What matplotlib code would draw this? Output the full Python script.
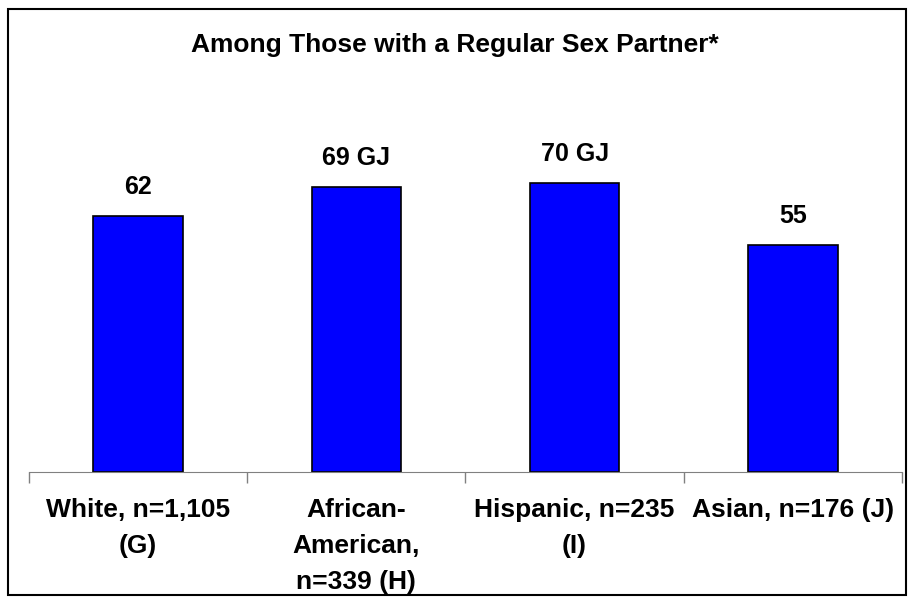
import matplotlib.pyplot as plt
import numpy as np
from matplotlib.patches import Rectangle

plt.rcParams['font.family'] = ['Liberation Sans', 'DejaVu Sans']

# datos
categorias = ["White, n=1,105\n(G)", "African-\nAmerican,\nn=339 (H)",
              "Hispanic, n=235\n(I)", "Asian, n=176 (J)"]
valores = [62, 69, 70, 55]
etiquetas = ["62", "69 GJ", "70 GJ", "55"]
titulo = "Among Those with a Regular Sex Partner*"

W, H = 909, 597
fig = plt.figure(figsize=(W / 100, H / 100), dpi=100)
ax = fig.add_axes([0.0319, 0.2094, 0.9604, 0.6231])

x = np.arange(len(valores))
barras = ax.bar(x, valores, width=0.41, color='#0000FF', edgecolor='black', linewidth=1.2)

for xi, v, et in zip(x, valores, etiquetas):
    ax.annotate(et, (xi, v), xytext=(0, 12), textcoords='offset points',
                ha='center', va='bottom', fontsize=18, fontweight='bold')

ax.set_xlim(-0.5, 3.5)
ax.set_ylim(0, 90)
for s in ['top', 'right', 'left']:
    ax.spines[s].set_visible(False)
ax.spines['bottom'].set_color('#808080')
ax.set_yticks([])

ax.set_xticks(x)
ax.set_xticklabels(categorias, fontsize=19, fontweight='bold', linespacing=1.62, va='top')
ax.tick_params(axis='x', which='major', length=0, pad=19)
ax.set_xticks(np.arange(-0.5, 4, 1), minor=True)
ax.tick_params(axis='x', which='minor', length=8, color='#808080', width=1)

fig.text(0.5, 1 - 45 / H, titulo, ha='center', va='center', fontsize=19, fontweight='bold')

# borde de la figura
fig.patches.append(Rectangle((8 / W, 2 / H), 898 / W, 586 / H, transform=fig.transFigure,
                             fill=False, edgecolor='black', linewidth=1.5))

fig.savefig('out.png', dpi=100)
